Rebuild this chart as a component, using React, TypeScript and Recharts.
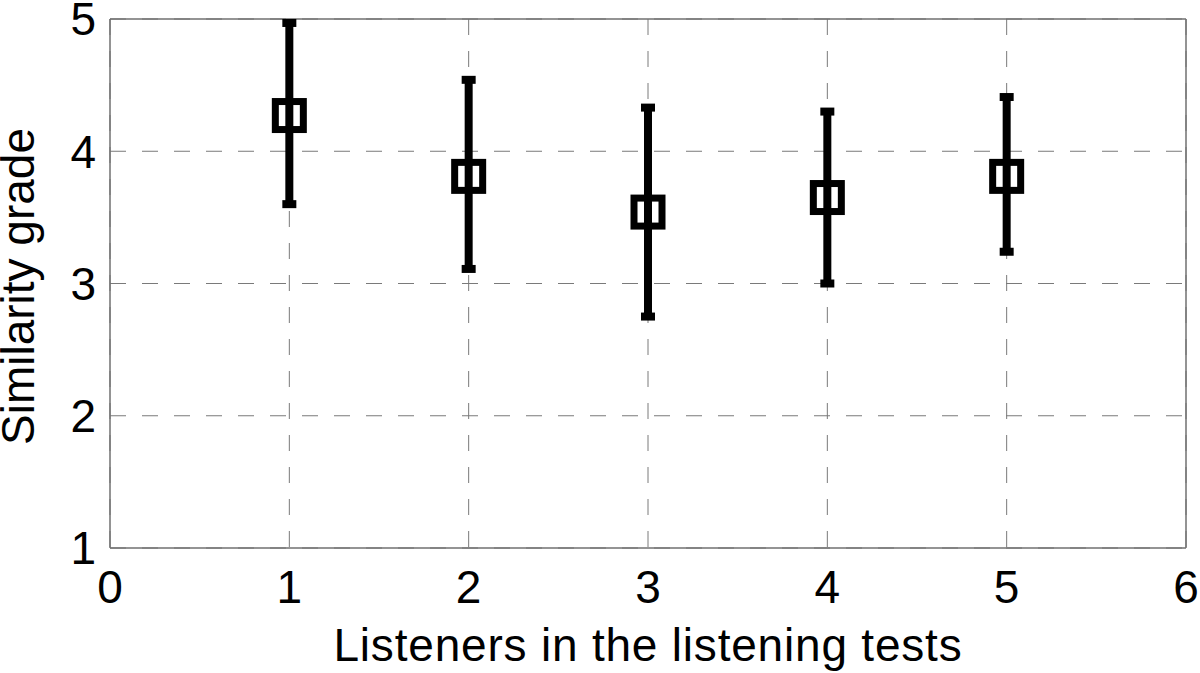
import React from 'react';
import { ComposedChart, Scatter, ErrorBar, XAxis, YAxis, CartesianGrid, ReferenceLine } from 'recharts';

const listeners = [1, 2, 3, 4, 5];
const meanGrades = [4.27, 3.81, 3.54, 3.65, 3.81];
const lowerBounds = [3.6, 3.11, 2.75, 3.0, 3.24];
const upperBounds = [4.97, 4.54, 4.33, 4.3, 4.41];
const xTicks = [0, 1, 2, 3, 4, 5, 6];
const yTicks = [1, 2, 3, 4, 5];

const data = listeners.map((x, i) => ({
  x,
  y: meanGrades[i],
  err: [meanGrades[i] - lowerBounds[i], upperBounds[i] - meanGrades[i]],
}));

const FONT = '"Liberation Sans", Arial, Helvetica, sans-serif';
const AXIS_GRAY = '#707070';

const SquareMarker = (props: any) => {
  const { cx, cy } = props;
  if (cx == null || cy == null) return null;
  return <rect x={cx - 14} y={cy - 14} width={28} height={28} fill="none" stroke="#000" strokeWidth={7} />;
};

export default function App() {
  return (
    <div style={{ position: 'absolute', left: 0, top: 0, width: 1200, height: 673, background: '#fff' }}>
      <ComposedChart width={1200} height={673} data={data} margin={{ top: 19, right: 14, left: 0, bottom: 0 }}>
        <CartesianGrid stroke="#7a7a7a" strokeDasharray="16 16" strokeWidth={1} />
        <XAxis
          dataKey="x"
          type="number"
          domain={[0, 6]}
          ticks={xTicks}
          interval={0}
          height={125}
          tickSize={0}
          tickMargin={22}
          tickLine={false}
          axisLine={{ stroke: AXIS_GRAY, strokeWidth: 1.5 }}
          tick={{ fontSize: 46, fill: '#000', fontFamily: FONT }}
          label={{ value: 'Listeners in the listening tests', position: 'insideBottom', offset: 12, fontSize: 46, fill: '#000', fontFamily: FONT, style: { letterSpacing: '0.8px' } }}
        />
        <YAxis
          type="number"
          domain={[1, 5]}
          ticks={yTicks}
          interval={0}
          width={110}
          tickSize={0}
          tickMargin={14}
          tickLine={false}
          axisLine={{ stroke: AXIS_GRAY, strokeWidth: 1.5 }}
          tick={{ fontSize: 46, fill: '#000', fontFamily: FONT }}
          label={{ value: 'Similarity grade', angle: -90, position: 'center', dx: -37, dy: 3, fontSize: 46, fill: '#000', fontFamily: FONT }}
        />
        <ReferenceLine y={5} stroke={AXIS_GRAY} strokeWidth={1.5} />
        <ReferenceLine x={6} stroke={AXIS_GRAY} strokeWidth={1.5} />
        <Scatter dataKey="y" data={data} isAnimationActive={false} shape={SquareMarker}>
          <ErrorBar dataKey="err" direction="y" width={7} stroke="#000" strokeWidth={8} isAnimationActive={false} />
        </Scatter>
      </ComposedChart>
    </div>
  );
}
